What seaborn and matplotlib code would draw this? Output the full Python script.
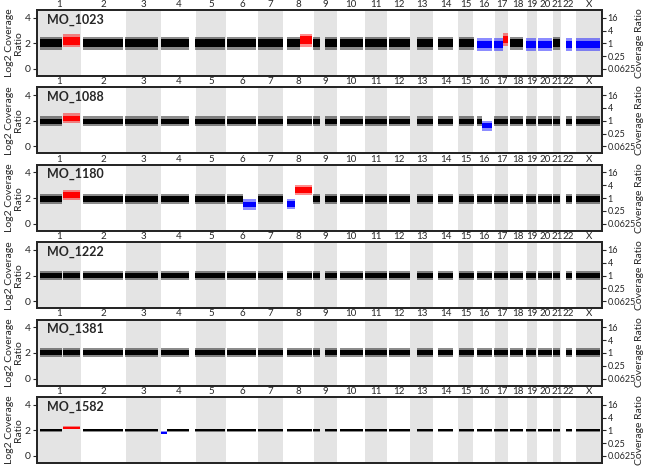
import matplotlib
matplotlib.use('Agg')
import matplotlib.pyplot as plt
import seaborn as sns
import numpy as np
import pandas as pd

# --- chromosome layout (x units along the genome axis) ---
chrom_names = ['1', '2', '3', '4', '5', '6', '7', '8', '9', '10', '11', '12',
               '13', '14', '15', '16', '17', '18', '19', '20', '21', '22', 'X']
chrom_ends = [44, 89, 124, 159, 189, 221, 246, 277, 300, 328, 350, 373,
              396, 421, 436, 458, 471, 490, 500, 516, 524, 539, 565]

# covered regions (where bins exist)
block_starts = [3, 26, 46, 88, 124, 158, 190, 221, 250, 276, 288, 303, 328, 352,
                380, 401, 422, 440, 457, 473, 489, 501, 516, 529, 539]
block_ends = [25, 43, 86, 121, 152, 188, 219, 246, 275, 283, 300, 326, 350, 373,
              396, 416, 437, 455, 471, 486, 499, 515, 523, 535, 563]

# --- samples ---
sample_names = ['MO_1023', 'MO_1088', 'MO_1180', 'MO_1222', 'MO_1381', 'MO_1582']
sample_levels = [2.0, 1.95, 1.95, 2.0, 2.05, 2.0]
sample_core = [0.30, 0.20, 0.22, 0.18, 0.20, 0.07]
sample_outer = [0.50, 0.40, 0.40, 0.35, 0.35, 0.12]

# copy number events: sample, start, end, log2 level, type
event_sample = ['MO_1023'] * 9 + ['MO_1088'] * 2 + ['MO_1180'] * 4 + ['MO_1582'] * 2
event_start = [26, 263, 440, 457, 466, 489, 501, 529, 539,
               26, 445,
               26, 206, 250, 258,
               26, 124]
event_end = [43, 275, 455, 466, 471, 499, 515, 535, 563,
             43, 455,
             43, 219, 258, 275,
             43, 130]
event_level = [2.2, 2.25, 1.9, 1.9, 2.3, 1.9, 1.9, 1.9, 1.9,
               2.2, 1.6,
               2.25, 1.5, 1.55, 2.65,
               2.2, 1.8]
event_type = ['gain', 'gain', 'loss', 'loss', 'gain', 'loss', 'loss', 'loss', 'loss',
              'gain', 'loss',
              'gain', 'loss', 'loss', 'gain',
              'gain', 'loss']

right_ticks = [16, 4, 1, 0.25, 0.0625]
right_labels = ['16', '4', '1', '0.25', '0.0625']

events = pd.DataFrame({'sample': event_sample, 'start': event_start, 'end': event_end,
                       'level': event_level, 'type': event_type})
colors = {'normal': 'black', 'gain': '#ff0000', 'loss': '#0000ff'}

sns.set_theme(style='white')
plt.rcParams['font.family'] = ['Lato', 'DejaVu Sans']

chrom_starts = [0] + chrom_ends[:-1]
centers = [(s + e) / 2 for s, e in zip(chrom_starts, chrom_ends)]

W, H = 650, 466
fig = plt.figure(figsize=(W / 100, H / 100), dpi=100)


def cut(pieces, a, b):
    out = []
    for s, e in pieces:
        if b <= s or a >= e:
            out.append((s, e))
            continue
        if a > s:
            out.append((s, a))
        if b < e:
            out.append((b, e))
    return out


def band(ax, x0, x1, level, core, outer, color):
    ax.fill_between([x0, x1], level - outer, level + outer, color=color,
                    alpha=0.45, lw=0, zorder=2)
    ax.fill_between([x0, x1], level - core, level + core, color=color,
                    lw=0, zorder=3)


for i, name in enumerate(sample_names):
    top = 10 + 77.4 * i
    ax = fig.add_axes([37 / W, 1 - (top + 66) / H, 565 / W, 66 / H])
    ax.set_xlim(0, 565)
    ax.set_ylim(-0.55, 4.6)

    for j, (s, e) in enumerate(zip(chrom_starts, chrom_ends)):
        if j % 2 == 0:
            ax.axvspan(s, e, color='#e4e4e4', lw=0, zorder=0)

    ev = events[events['sample'] == name]
    lvl, core, outer = sample_levels[i], sample_core[i], sample_outer[i]

    for s, e in zip(block_starts, block_ends):
        pieces = [(s, e)]
        for _, r in ev.iterrows():
            pieces = cut(pieces, r['start'], r['end'])
        for a, b in pieces:
            band(ax, a, b, lvl, core, outer, colors['normal'])
    for _, r in ev.iterrows():
        band(ax, r['start'], r['end'], r['level'], core, outer, colors[r['type']])

    ax.set_xticks(centers)
    ax.set_xticklabels(chrom_names)
    ax.xaxis.set_ticks_position('top')
    ax.tick_params(axis='x', top=True, bottom=False, length=0, pad=0.8, labelsize=7)

    ax.set_yticks([0, 2, 4])
    ax.tick_params(axis='y', left=True, length=3, width=0.8, pad=1.5, labelsize=7.5)

    for sp in ax.spines.values():
        sp.set_color('black')
        sp.set_linewidth(1.2)

    ax.text(0.017, 0.95, name, transform=ax.transAxes, fontsize=9,
            fontweight='bold', va='top', ha='left', zorder=5)

    # right axis: linear coverage ratio (two log2 units per axis unit)
    ax2 = ax.twinx()
    ax2.set_ylim(ax.get_ylim())
    ax2.set_yticks([2 + np.log2(t) / 2 for t in right_ticks])
    ax2.set_yticklabels(right_labels)
    ax2.tick_params(axis='y', right=True, length=3, width=0.8, pad=1, labelsize=6.5)
    ax2.grid(False)

    cy = 1 - (top + 33) / H
    fig.text(14 / W, cy, 'Log2 Coverage\nRatio', rotation=90, ha='center',
             va='center', fontsize=7.5, linespacing=1.1)
    fig.text(640 / W, cy, 'Coverage Ratio', rotation=90, ha='center',
             va='center', fontsize=7.5)

fig.savefig('out.png', dpi=100)
